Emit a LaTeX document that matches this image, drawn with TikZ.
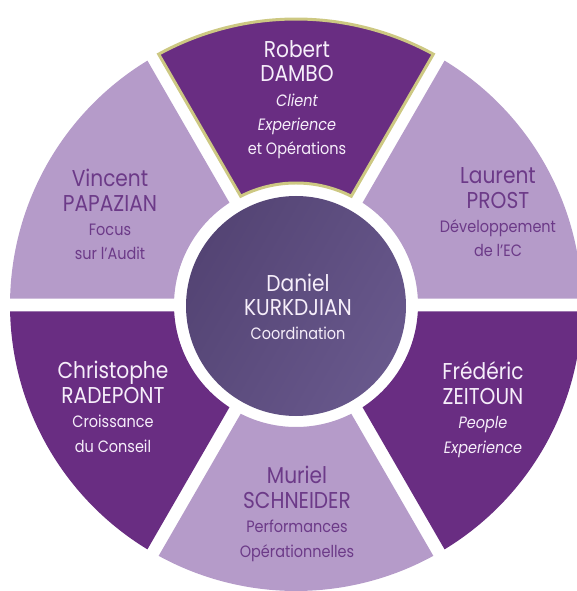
\documentclass[tikz,border=0pt]{standalone}
\usepackage{fontspec}
\setmainfont{Poppins}[FakeStretch=0.88]
\usepackage{tikz}
\usetikzlibrary{calc}

\definecolor{darkplum}{RGB}{105,45,130}
\definecolor{lightplum}{RGB}{181,155,201}
\definecolor{coreleft}{RGB}{84,68,116}
\definecolor{coreright}{RGB}{104,88,140}
\definecolor{goldline}{RGB}{205,200,130}
\definecolor{paletext}{RGB}{246,238,250}
\definecolor{plumtext}{RGB}{108,58,136}

\newcommand{\rolefont}{\fontsize{16.5}{24.5}\selectfont}

\begin{document}
\begin{tikzpicture}[x=1bp,y=1bp,
	member/.style={align=center,inner sep=0pt,anchor=base,font=\fontsize{23}{24.5}\selectfont},
	darkpart/.style={fill=darkplum},
	lightpart/.style={fill=lightplum}]
	\useasboundingbox (-296,-286) rectangle (281,305);
	\clip (-296,-286) rectangle (281,305);
	
	\foreach \a/\kind in {0/lightpart,120/lightpart,180/darkpart,240/lightpart,300/darkpart}{
		\path[\kind] ({\a+1.3}:286) arc[start angle={\a+1.3},end angle={\a+58.7},radius=286]
			-- ({\a+56.95}:122) arc[start angle={\a+56.95},end angle={\a+3.05},radius=122] -- cycle;
	}
	\path[darkpart,draw=goldline,line width=3pt] (61.3:286) arc[start angle=61.3,end angle=118.7,radius=286]
		-- (116.95:122) arc[start angle=116.95,end angle=63.05,radius=122] -- cycle;
	
	\shade[left color=coreleft,right color=coreright,shading angle=60] (0,-1) circle[radius=110];
	
	\node[member,text=paletext] (robert) at (1,150) {Robert\\DAMBO\\{\rolefont\itshape Client}\\{\rolefont\itshape Experience}\\{\rolefont et Opérations}};
	\node[member,text=plumtext] (laurent) at (202,48) {Laurent\\PROST\\{\rolefont Développement}\\{\rolefont de l’EC}};
	\node[member,text=paletext] (frederic) at (187,-148) {Frédéric\\ZEITOUN\\{\rolefont\itshape People}\\{\rolefont\itshape Experience}};
	\node[member,text=plumtext] (vincent) at (-186,45) {Vincent\\PAPAZIAN\\{\rolefont Focus}\\{\rolefont sur l’Audit}};
	\node[member,text=paletext] (christophe) at (-183,-147) {Christophe\\RADEPONT\\{\rolefont Croissance}\\{\rolefont du Conseil}};
	\node[member,text=paletext] (daniel) at (2,-35) {Daniel\\KURKDJIAN\\{\rolefont Coordination}};
	\node[member,text=plumtext] (muriel) at (1,-252) {Muriel\\SCHNEIDER\\{\rolefont Performances}\\{\rolefont Opérationnelles}};
\end{tikzpicture}
\end{document}
